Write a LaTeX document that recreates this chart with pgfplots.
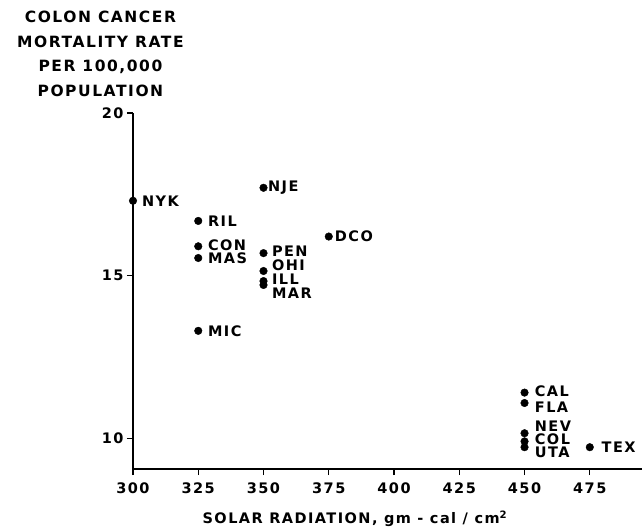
\documentclass[border=0pt]{standalone}
\usepackage{fontspec}
\setmainfont{DejaVu Sans}[LetterSpace=10]
\usepackage{pgfplots}
\pgfplotsset{compat=1.18}

\newcommand{\lab}{\fontsize{14.5bp}{24bp}\selectfont\bfseries}
\newcommand{\ttl}{\fontsize{15.5bp}{24.5bp}\selectfont\bfseries}

\begin{document}
\begin{tikzpicture}
\begin{axis}[
    scale only axis,
    width=509bp, height=356bp,
    xmin=300, xmax=495,
    ymin=9.05, ymax=20,
    axis lines=left,
    axis line style={-, line width=1.4pt},
    tick align=outside,
    major tick length=6bp,
    tick style={line width=1.2pt, black},
    xtick={300,325,...,475},
    ytick={10,15,20},
    ticklabel style={font=\lab},
    xticklabel style={yshift=-4bp},
    /pgf/number format/assume math mode=true,
    clip=false,
]

% states
\addplot[only marks, mark=*, mark size=3.8bp, black] coordinates {
    (300,17.3) (350,17.7) (325,16.68) (325,15.9) (325,15.54)
    (350,15.69) (350,15.14) (350,14.83) (350,14.71) (325,13.3)
    (375,16.2) (450,11.4) (450,11.08) (450,10.15) (450,9.9)
    (450,9.72) (475,9.72)
};

\begin{scope}[every node/.style={anchor=west, font=\lab, inner sep=0pt}]
\node at (axis cs:303.4,17.29) {NYK};
\node at (axis cs:351.7,17.69) {NJE};
\node at (axis cs:328.7,16.68) {RIL};
\node at (axis cs:328.7,15.93) {CON};
\node at (axis cs:328.7,15.52) {MAS};
\node at (axis cs:353.2,15.76) {PEN};
\node at (axis cs:353.2,15.32) {OHI};
\node at (axis cs:353.2,14.88) {ILL};
\node at (axis cs:353.2,14.46) {MAR};
\node at (axis cs:328.7,13.29) {MIC};
\node at (axis cs:377.3,16.22) {DCO};
\node at (axis cs:453.9,11.44) {CAL};
\node at (axis cs:453.9,10.95) {FLA};
\node at (axis cs:453.9,10.38) {NEV};
\node at (axis cs:453.9,9.98) {COL};
\node at (axis cs:453.9,9.55) {UTA};
\node at (axis cs:479.5,9.72) {TEX};
\end{scope}

\node[font=\lab] at (rel axis cs:0.436,-0.14) {SOLAR RADIATION, gm - cal / cm\textsuperscript{2}};
\node[font=\ttl, align=center] at (rel axis cs:-0.064,1.166)
    {COLON CANCER\\MORTALITY RATE\\PER 100,000\\POPULATION};
\end{axis}
\pgfresetboundingbox
\useasboundingbox (-133bp,-61bp) rectangle (509bp,469bp);
\end{tikzpicture}
\end{document}
